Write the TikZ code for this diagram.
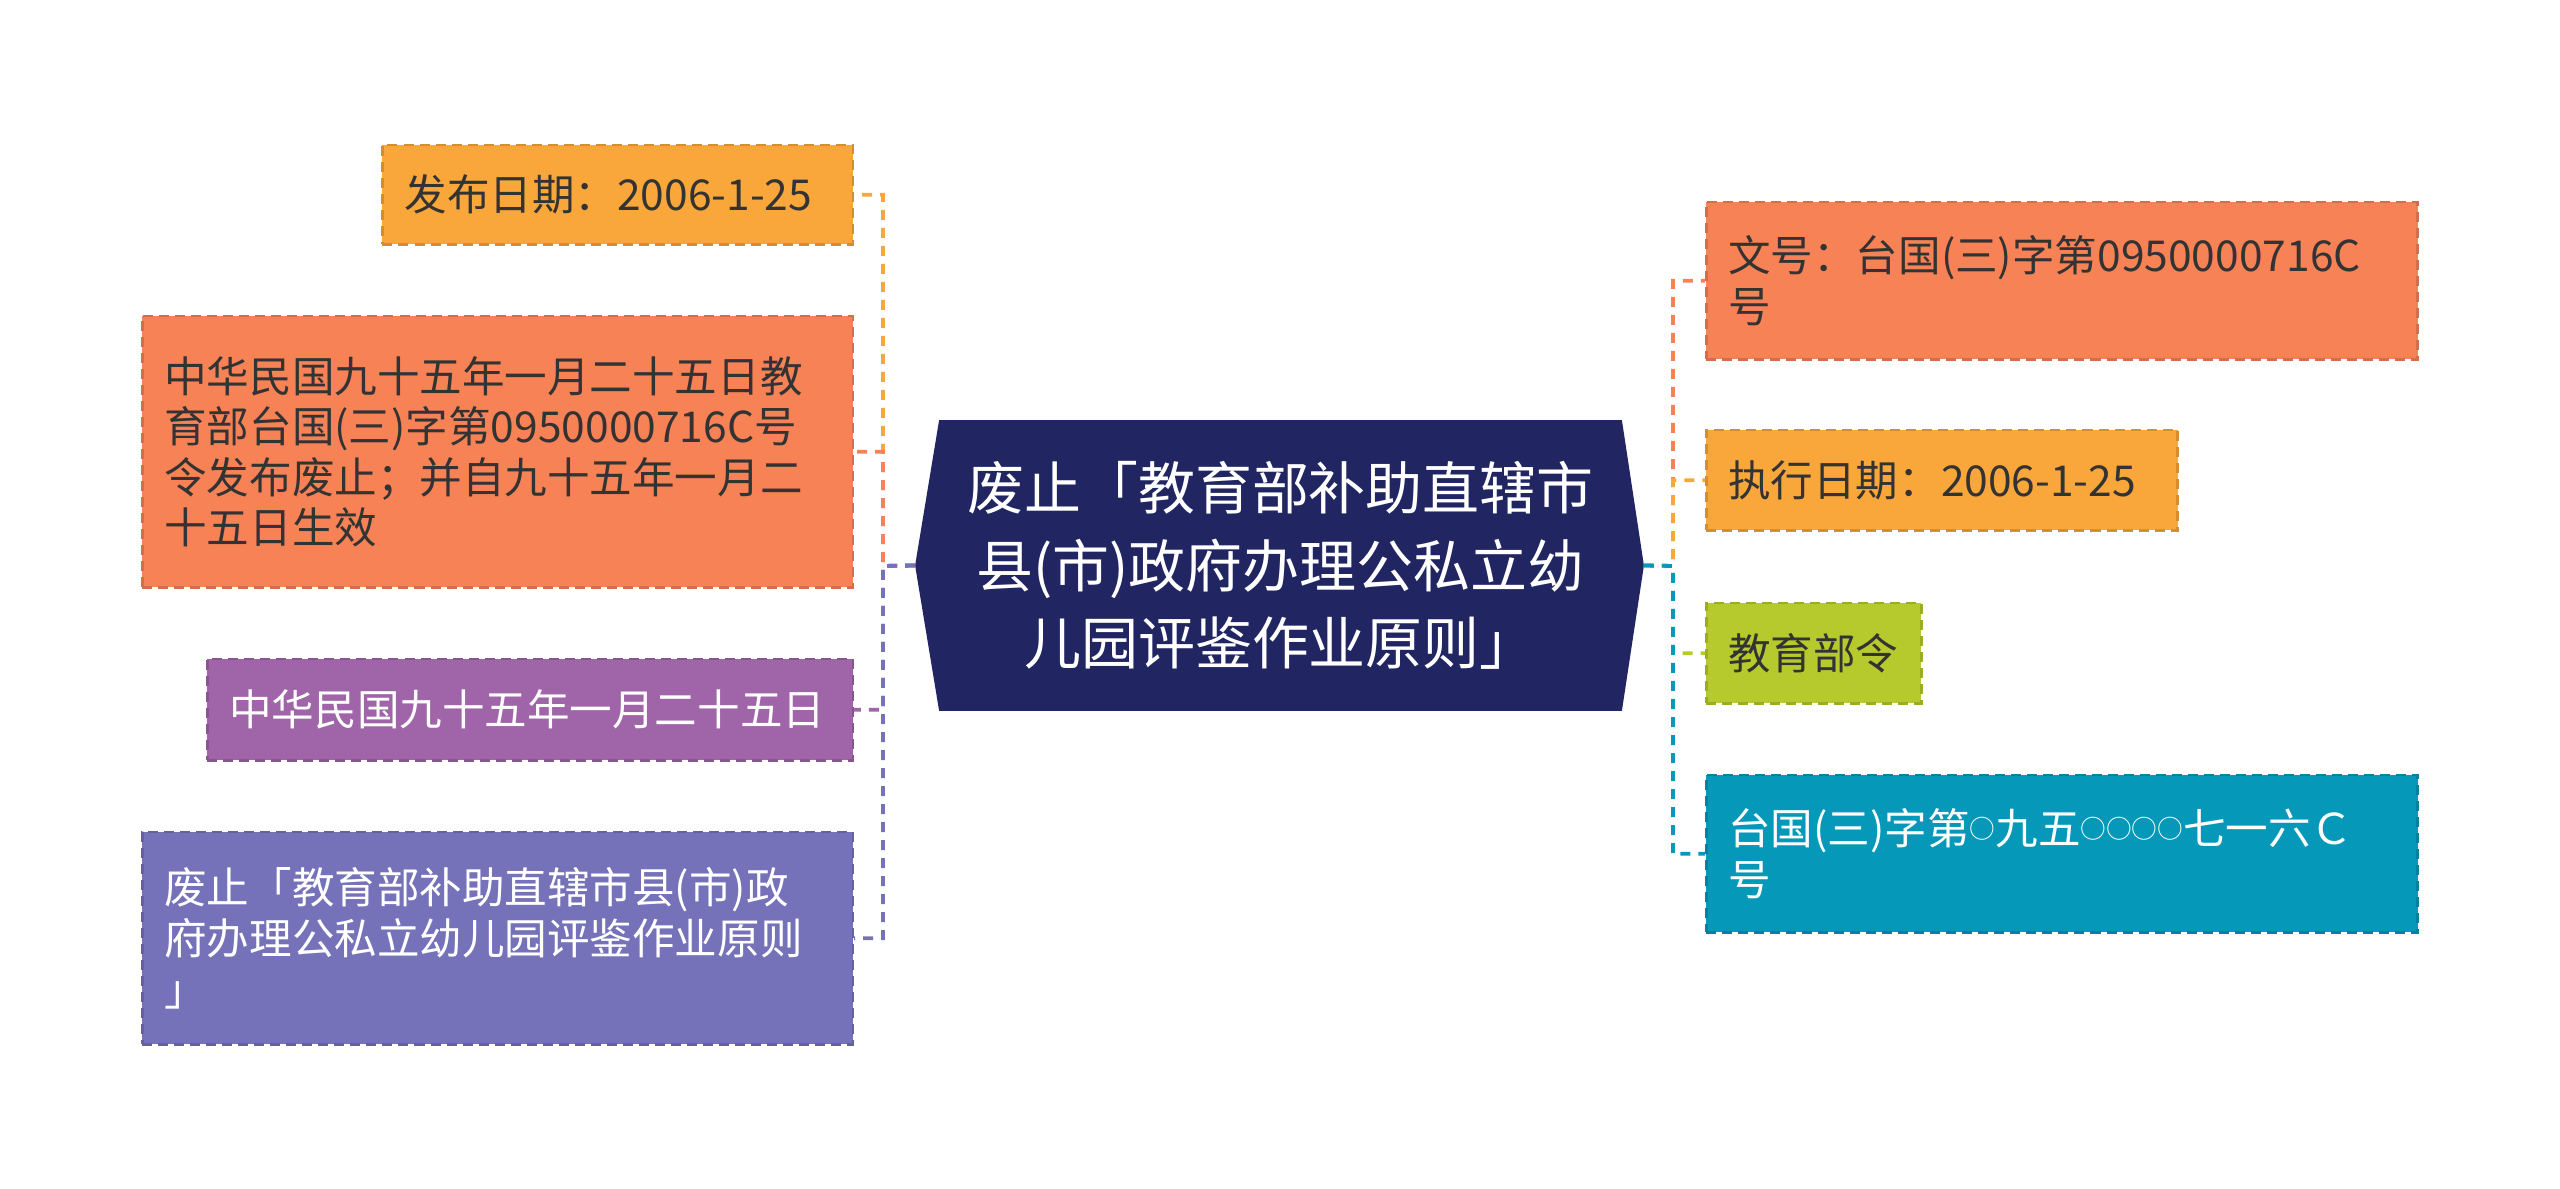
\documentclass[tikz,border=0pt]{standalone}
\usepackage{fontspec}
\setmainfont{Noto Sans CJK SC}
\usepackage{tikz}
\usetikzlibrary{backgrounds}
\definecolor{rootblue}{HTML}{212663}
\definecolor{corange}{HTML}{F9A73A}
\definecolor{cred}{HTML}{F78256}
\definecolor{cpurple}{HTML}{A064A8}
\definecolor{cviolet}{HTML}{7672B9}
\definecolor{cgreen}{HTML}{B6CA2E}
\definecolor{cteal}{HTML}{0598B8}
\definecolor{darktext}{HTML}{333333}
\newcommand{\ling}{\raisebox{0.15em}{\fontsize{7.3pt}{7.3pt}\selectfont ○}}

\begin{document}
\begin{tikzpicture}[x=0.01cm,y=-0.01cm]
\tikzset{leaf/.style={rectangle,fill=#1,draw=#1!85!black,dash pattern=on 1mm off 0.6mm,line width=0.25mm,align=left,inner xsep=2.2mm,inner ysep=0pt,font=\fontsize{12.1pt}{14.4pt}\selectfont,text=darktext},
  link/.style={draw=#1,dash pattern=on 1mm off 0.8mm,line width=0.38mm}};
\useasboundingbox (0,0) rectangle (2560,1189);
% root
\node[rectangle,minimum width=68.1mm,minimum height=28.9mm,inner sep=0pt,align=center,text=white,font=\fontsize{16.2pt}{22pt}\selectfont] (root) at (1280.5,565.5) {废止「教育部补助直辖市\\县(市)政府办理公私立幼\\儿园评鉴作业原则」};
\coordinate (rootL) at ([xshift=-2.4mm]root.west);
\coordinate (rootR) at ([xshift=2.2mm]root.east);
\begin{scope}[on background layer]
\fill[rootblue] (root.north west) -- (root.north east) -- (rootR) -- (root.south east) -- (root.south west) -- (rootL) -- cycle;
\end{scope}
\coordinate (lt) at (883,566);
\coordinate (rt) at (1673,566);
% left side
\node[leaf=corange,anchor=north east,text width=42.6mm,minimum height=9.9mm] (date) at (854,144) {发布日期：2006-1-25};
\node[leaf=cred,anchor=north east,text width=66.6mm,minimum height=27.1mm] (note) at (854,315) {中华民国九十五年一月二十五日教\\育部台国(三)字第0950000716C号\\令发布废止；并自九十五年一月二\\十五日生效};
\node[leaf=cpurple,anchor=north east,text width=60.1mm,minimum height=10.1mm,text=white] (day) at (854,658) {中华民国九十五年一月二十五日};
\node[leaf=cviolet,anchor=north east,text width=66.6mm,minimum height=21.2mm,text=white] (title) at (854,831) {废止「教育部补助直辖市县(市)政\\府办理公私立幼儿园评鉴作业原则\\」};
% right side
\node[leaf=cred,anchor=north west,text width=66.7mm,minimum height=15.7mm] (docno) at (1705,201) {文号：台国(三)字第0950000716C\\号};
\node[leaf=corange,anchor=north west,text width=42.7mm,minimum height=10.0mm] (exec) at (1705,429) {执行日期：2006-1-25};
\node[leaf=cgreen,anchor=north west,text width=17.1mm,minimum height=10.0mm] (kind) at (1705,602) {教育部令};
\node[leaf=cteal,anchor=north west,text width=66.7mm,minimum height=15.7mm,text=white] (docnum) at (1705,774) {台国(三)字第\ling 九五\ling\ling\ling\ling 七一六Ｃ\\号};
% connectors
\draw[link=corange] (rootL) -- (lt) |- (date.east);
\draw[link=cred] (rootL) -- (lt) |- (note.east);
\draw[link=cpurple] (rootL) -- (lt) |- (day.east);
\draw[link=cviolet] (rootL) -- (lt) |- (title.east);
\draw[link=cred] (rootR) -- (rt) |- (docno.west);
\draw[link=corange] (rootR) -- (rt) |- (exec.west);
\draw[link=cgreen] (rootR) -- (rt) |- (kind.west);
\draw[link=cteal] (rootR) -- (rt) |- (docnum.west);
\end{tikzpicture}
\end{document}
